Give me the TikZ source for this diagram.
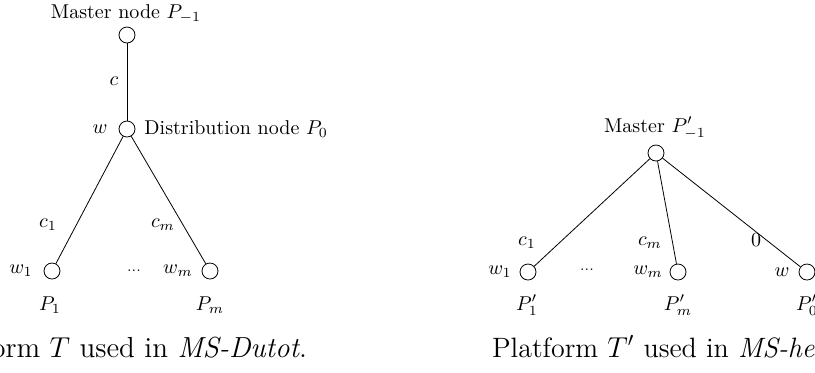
\documentclass[tikz,border=0pt]{standalone}
\usepackage{amsmath,amssymb}
\usetikzlibrary{positioning}
\tikzset{proc/.style={draw,circle,minimum size=8pt,inner sep=0pt}}

\begin{document}
\begin{tikzpicture}[x=0.5pt,y=-0.5pt]
\useasboundingbox (0,0) rectangle (815,372);
\clip (0,0) rectangle (815,372);

% platform T
\node[proc] (m)  at (127,35)  {};
\node[proc] (d)  at (127,129) {};
\node[proc] (p1) at (52,271)  {};
\node[proc] (pm) at (210,271) {};
\draw (m)--(d);
\draw (d)--(p1);
\draw (d)--(pm);

\node (lm)  at (126,14)  {Master node $P_{-1}$};
\node (lc)  at (114,81)  {$c$};
\node (lw)  at (100,129) {$w$};
\node[right=1pt of d] (ld) {Distribution node $P_0$};
\node (lc1) at (48,225)  {$c_1$};
\node (lcm) at (163,225) {$c_m$};
\node (lw1) at (21,271)  {$w_1$};
\node (ldt) at (134,271) {\scriptsize ...};
\node (lwm) at (178,271) {$w_m$};
\node (lp1) at (50,305)  {$P_1$};
\node (lpm) at (210,305) {$P_m$};
\node[anchor=base east,font=\fontsize{14.5}{17}\selectfont] (capt) at (314,357) {Platform $T$ used in \textit{MS-Dutot}.};

% platform T'
\node[proc] (mp)  at (656,153) {};
\node[proc] (p1p) at (528,272) {};
\node[proc] (pmp) at (678,272) {};
\node[proc] (p0p) at (807,272) {};
\foreach \x in {p1p,pmp,p0p} \draw (mp)--(\x);

\node (lmp)  at (655,128) {Master $P'_{-1}$};
\node (lc1p) at (527,243) {$c_1$};
\node (lcmp) at (650,243) {$c_m$};
\node (l0p)  at (756,240) {$0$};
\node (lw1p) at (500,272) {$w_1$};
\node (ldtp) at (587,270) {\scriptsize ...};
\node (lwmp) at (648,272) {$w_m$};
\node (lwp)  at (782,272) {$w$};
\node (lp1p) at (527,305) {$P'_1$};
\node (lpmp) at (678,305) {$P'_m$};
\node (lp0p) at (807,305) {$P'_0$};
\node[anchor=base west,font=\fontsize{14}{17}\selectfont] (captp) at (485,357) {Platform $T'$ used in \textit{MS-hetero}.};
\end{tikzpicture}
\end{document}
